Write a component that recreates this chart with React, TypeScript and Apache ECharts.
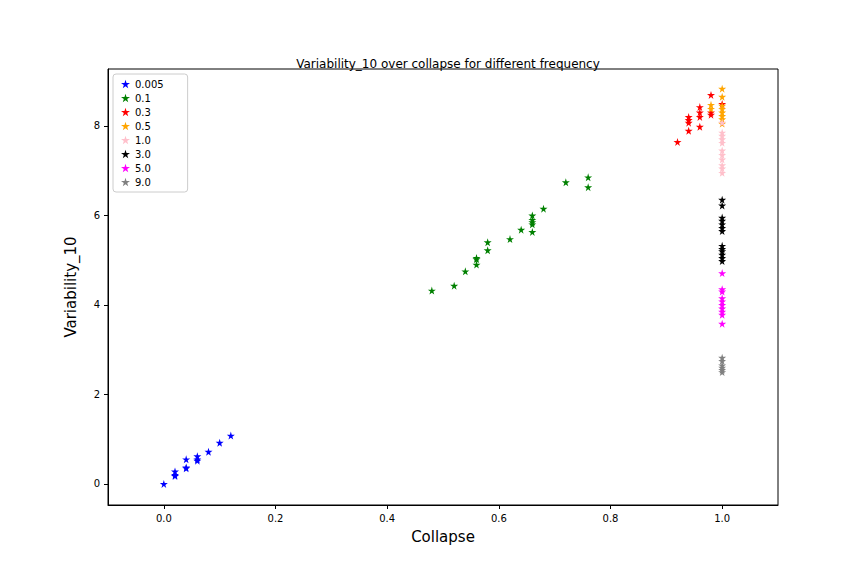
import { useEffect, useRef } from 'react'
import * as echarts from 'echarts'

const labels = ['0.005', '0.1', '0.3', '0.5', '1.0', '3.0', '5.0', '9.0']
const colors = ['#0000ff', '#008000', '#ff0000', '#ffa500', '#ffc0cb', '#000000', '#ff00ff', '#808080']

const blue = [[0, 0], [0.02, 0.2], [0.02, 0.28], [0.02, 0.18], [0.04, 0.35], [0.04, 0.37], [0.04, 0.55], [0.06, 0.52], [0.06, 0.55], [0.06, 0.62], [0.08, 0.72], [0.1, 0.92], [0.12, 1.08]]
const green = [[0.48, 4.32], [0.52, 4.43], [0.54, 4.75], [0.56, 4.9], [0.56, 5.05], [0.56, 5.02], [0.58, 5.22], [0.58, 5.4], [0.62, 5.47], [0.64, 5.68], [0.66, 5.63], [0.66, 5.8], [0.66, 5.9], [0.66, 6.0], [0.66, 5.85], [0.68, 6.15], [0.72, 6.74], [0.76, 6.85], [0.76, 6.63]]
const red = [[0.92, 7.64], [0.94, 7.89], [0.94, 8.07], [0.94, 8.13], [0.94, 8.2], [0.96, 7.98], [0.96, 8.2], [0.96, 8.3], [0.96, 8.42], [0.98, 8.69], [0.98, 8.25], [0.98, 8.3], [1.0, 8.49]]
const orange = [[1.0, 8.83], [1.0, 8.65], [1.0, 8.45], [1.0, 8.38], [1.0, 8.3], [1.0, 8.22], [1.0, 8.15], [1.0, 8.05], [0.98, 8.47], [0.98, 8.38]]
const pink = [[1.0, 8.07], [1.0, 7.85], [1.0, 7.78], [1.0, 7.7], [1.0, 7.62], [1.0, 7.45], [1.0, 7.35], [1.0, 7.25], [1.0, 7.12], [1.0, 7.05], [1.0, 6.95]]
const black = [[1.0, 6.35], [1.0, 6.22], [1.0, 5.95], [1.0, 5.88], [1.0, 5.8], [1.0, 5.72], [1.0, 5.65], [1.0, 5.32], [1.0, 5.25], [1.0, 5.2], [1.0, 5.12], [1.0, 5.05], [1.0, 4.98]]
const magenta = [[1.0, 4.71], [1.0, 4.35], [1.0, 4.3], [1.0, 4.15], [1.0, 4.08], [1.0, 4.0], [1.0, 3.92], [1.0, 3.85], [1.0, 3.78], [1.0, 3.58]]
const gray = [[1.0, 2.82], [1.0, 2.75], [1.0, 2.65], [1.0, 2.6], [1.0, 2.55], [1.0, 2.5]]
const groups = [blue, green, red, orange, pink, black, magenta, gray]

const STAR = 'path://M50,0L61,35L98,35L68,57L79,91L50,70L21,91L32,57L2,35L39,35Z'

export default function App() {
  const ref = useRef<HTMLDivElement | null>(null)
  useEffect(() => {
    if (!ref.current) return
    const chart = echarts.init(ref.current, undefined, { renderer: 'svg' })
    const line = { onZero: false, lineStyle: { color: '#000' } }
    chart.setOption({
      animation: false,
      textStyle: { fontFamily: 'DejaVu Sans' },
      title: {
        text: 'Variability_10 over collapse for different frequency',
        left: 435, top: 45, textAlign: 'center',
        textStyle: { fontSize: 12, fontWeight: 'normal', color: '#000' },
      },
      grid: { left: 100, right: 78, top: 61, bottom: 63, show: true, borderColor: '#000', borderWidth: 1 },
      legend: {
        orient: 'vertical', left: 105, top: 66, itemGap: 4,
        itemWidth: 9, itemHeight: 9,
        borderColor: '#ccc', borderWidth: 1, borderRadius: 3, padding: [5, 24, 5, 8],
        textStyle: { fontSize: 10, color: '#000' },
        data: labels.map((l) => ({ name: l, icon: STAR })),
      },
      xAxis: {
        type: 'value', min: -0.1, max: 1.1,
        name: 'Collapse', nameLocation: 'middle', nameGap: 24,
        nameTextStyle: { fontSize: 15, color: '#000' },
        axisLine: line,
        splitLine: { show: false },
        axisLabel: {
          color: '#000', fontSize: 10,
          customValues: [0, 0.2, 0.4, 0.6, 0.8, 1.0],
          formatter: (v: number) => v.toFixed(1),
        },
        axisTick: { customValues: [0, 0.2, 0.4, 0.6, 0.8, 1.0], lineStyle: { color: '#000' }, length: 4 },
      },
      yAxis: {
        type: 'value', min: -0.47, max: 9.27,
        name: 'Variability_10', nameLocation: 'middle', nameGap: 30,
        nameTextStyle: { fontSize: 15, color: '#000' },
        axisLine: line,
        splitLine: { show: false },
        axisLabel: { color: '#000', fontSize: 10, customValues: [0, 2, 4, 6, 8] },
        axisTick: { customValues: [0, 2, 4, 6, 8], lineStyle: { color: '#000' }, length: 4 },
      },
      series: groups.map((g, i) => ({
        type: 'scatter', name: labels[i], data: g,
        symbol: STAR, symbolSize: 8, itemStyle: { color: colors[i], opacity: 1 },
      })),
    })
    return () => chart.dispose()
  }, [])
  return <div ref={ref} style={{ width: 848, height: 560 }} />
}
